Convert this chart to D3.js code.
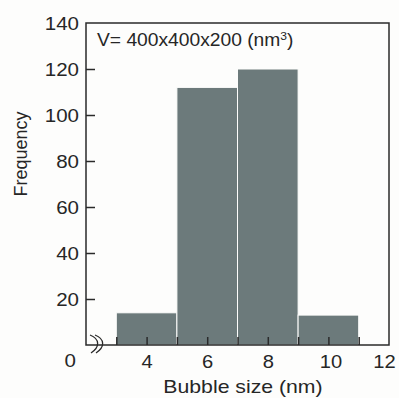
<!DOCTYPE html>
<html>
<head>
<meta charset="utf-8">
<script src="https://cdn.jsdelivr.net/npm/d3@7"></script>
<style>
  body { margin: 0; background: #fdfdfc; }
  text { font-family: "Liberation Sans", Arial, sans-serif; fill: #262626; }
</style>
</head>
<body>
<div id="chart"></div>
<script>
// Histogram data: bin edges (nm) and counts
const binStart = [3, 5, 7, 9];
const binEnd = [5, 7, 9, 11];
const counts = [14, 112, 120, 13];

const xTickMarks = [3, 4, 5, 6, 7, 8, 9, 10, 11];
const xTickLabels = [4, 6, 8, 10, 12];
const yTickMarks = [20, 40, 60, 80, 100, 120];
const yTickLabels = [0, 20, 40, 60, 80, 100, 120, 140];

const width = 399, height = 398;
const plotL = 86, plotR = 389, plotT = 23, plotB = 345;
const ink = "#2a2a2a";
const barColor = "#6c7a7b";

const svg = d3.select("#chart")
    .append("svg")
    .attr("width", width)
    .attr("height", height);

const x = d3.scaleLinear().domain([2, 12]).range([plotL, plotR]);
const y = d3.scaleLinear().domain([0, 140]).range([plotB, plotT]);

// stretch text horizontally (the original print is a bit wide)
function stretch(sel, k) {
    sel.each(function() {
        const t = d3.select(this);
        const tx = +t.attr("x") || 0;
        t.attr("transform", `translate(${tx},0) scale(${k},1) translate(${-tx},0)`);
    });
}

// bars
const bins = binStart.map((s, i) => ({ x0: s, x1: binEnd[i], n: counts[i] }));
svg.append("g")
    .selectAll("rect")
    .data(bins)
    .join("rect")
    .attr("x", d => x(d.x0))
    .attr("y", d => y(d.n))
    .attr("width", d => x(d.x1) - x(d.x0))
    .attr("height", d => y(0) - y(d.n))
    .attr("fill", barColor)
    .attr("stroke", "#fdfdfc")
    .attr("stroke-width", 1);

// frame
svg.append("rect")
    .attr("x", plotL)
    .attr("y", plotT)
    .attr("width", plotR - plotL)
    .attr("height", plotB - plotT)
    .attr("fill", "none")
    .attr("stroke", ink)
    .attr("stroke-width", 1.5);

// x tick marks (inward)
const xMarks = svg.append("g")
    .attr("transform", `translate(0,${plotB})`)
    .call(d3.axisBottom(x).tickValues(xTickMarks).tickSize(-8).tickFormat(""));
xMarks.select(".domain").remove();
xMarks.selectAll("line").attr("stroke", ink).attr("stroke-width", 1.5);

// x tick labels (last one nudged in so it stays on the page)
const xLab = svg.append("g")
    .attr("transform", `translate(0,${plotB})`)
    .call(d3.axisBottom(x).tickValues(xTickLabels).tickSize(0).tickPadding(10));
xLab.select(".domain").remove();
xLab.selectAll("text")
    .attr("font-size", 18)
    .attr("fill", ink)
    .attr("x", d => d === 12 ? -5 : d === 10 ? 2 : 0)
    .call(stretch, 1.12);

// y tick marks (inward)
const yMarks = svg.append("g")
    .attr("transform", `translate(${plotL},0)`)
    .call(d3.axisLeft(y).tickValues(yTickMarks).tickSize(-9).tickFormat(""));
yMarks.select(".domain").remove();
yMarks.selectAll("line").attr("stroke", ink).attr("stroke-width", 1.5);

// y tick labels; the zero sits below the broken corner
const yLab = svg.append("g")
    .attr("transform", `translate(${plotL},0)`)
    .call(d3.axisLeft(y).tickValues(yTickLabels).tickSize(0).tickPadding(7));
yLab.select(".domain").remove();
yLab.selectAll("text")
    .attr("font-size", 18)
    .attr("fill", ink)
    .attr("x", d => d === 0 ? -10 : -7)
    .attr("dy", d => d === 0 ? "1.2em" : "0.34em")
    .call(stretch, 1.14);

// axis break mark
const brk = svg.append("g")
    .attr("fill", "none")
    .attr("stroke", ink)
    .attr("stroke-width", 1.3);
[90, 95].forEach(bx => {
    brk.append("path")
        .attr("d", `M${bx},335 C${bx + 10},339 ${bx + 10},347 ${bx + 1},353`);
});

// volume note
const note = svg.append("text")
    .attr("x", 97)
    .attr("y", 46)
    .attr("font-size", 17.5)
    .attr("fill", ink);
note.append("tspan").text("V= 400x400x200 (nm");
note.append("tspan").attr("font-size", 11).attr("dy", -6).text("3");
note.append("tspan").attr("dy", 6).text(")");
stretch(note, 1.1);

// axis titles
const xTitle = svg.append("text")
    .attr("x", 243)
    .attr("y", 393)
    .attr("text-anchor", "middle")
    .attr("font-size", 18)
    .attr("fill", ink)
    .text("Bubble size (nm)");
stretch(xTitle, 1.18);

svg.append("text")
    .attr("transform", "translate(27,154) rotate(-90)")
    .attr("text-anchor", "middle")
    .attr("font-size", 18)
    .attr("fill", ink)
    .text("Frequency");
</script>
</body>
</html>
